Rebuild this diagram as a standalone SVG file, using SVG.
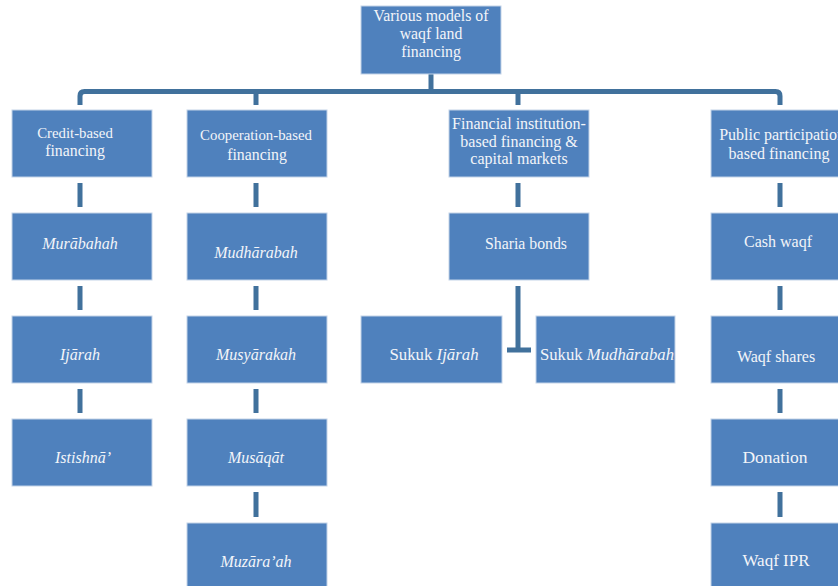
<svg xmlns="http://www.w3.org/2000/svg" width="838" height="586" viewBox="0 0 838 586">
<style>
.box{fill:#4f81bd;stroke:#c3d3e8;stroke-width:1}
.t{font-family:"Liberation Serif","Times New Roman",serif;fill:#f3f5f9;text-anchor:middle;dominant-baseline:central}
.i{font-style:italic}
.c{fill:none;stroke:#41719c;stroke-width:5}
</style>
<rect width="838" height="586" fill="#ffffff"/>
<g id="connectors">
<path class="c" d="M431,74 V92"/>
<path class="c" d="M80,105 V96 Q80,91.5 84.5,91.5 H775.5 Q780,91.5 780,96 V105"/>
<path class="c" d="M256,92 V105"/>
<path class="c" d="M518,92 V105"/>
<path class="c" d="M80,183 V207 M80,286 V310 M80,389 V413"/>
<path class="c" d="M256,183 V207 M256,286 V310 M256,389 V413 M256,492 V517"/>
<path class="c" d="M518,183 V207 M518,286 V350 M507,350 H531"/>
<path class="c" d="M780,183 V207 M780,286 V310 M780,389 V413 M780,492 V517"/>
</g>
<g id="root"><rect class="box" x="361" y="6" width="140" height="68"/>
<text class="t" x="431" y="15" font-size="15.8">Various models of</text>
<text class="t" x="431" y="33" font-size="15.8">waqf land</text>
<text class="t" x="431" y="51" font-size="15.8">financing</text></g>
<g id="credit"><rect class="box" x="12" y="110" width="140" height="67"/>
<text class="t" x="75" y="133" font-size="14.8">Credit-based</text>
<text class="t" x="75" y="150" font-size="15.8">financing</text></g>
<g id="coop"><rect class="box" x="187" y="110" width="140" height="67"/>
<text class="t" x="256" y="135" font-size="14.8">Cooperation-based</text>
<text class="t" x="257" y="154" font-size="15.8">financing</text></g>
<g id="financial"><rect class="box" x="449" y="110" width="140" height="67"/>
<text class="t" x="519" y="123" font-size="16">Financial institution-</text>
<text class="t" x="519" y="141" font-size="16">based financing &amp;</text>
<text class="t" x="519" y="158" font-size="16">capital markets</text></g>
<g id="public"><rect class="box" x="711" y="110" width="140" height="67"/>
<text class="t" x="782" y="134" font-size="16">Public participation</text>
<text class="t" x="779" y="153" font-size="16">based financing</text></g>
<g id="murabahah"><rect class="box" x="12" y="213" width="140" height="67"/>
<text class="t i" x="80" y="243" font-size="16">Murābahah</text></g>
<g id="ijarah"><rect class="box" x="12" y="316" width="140" height="67"/>
<text class="t i" x="80" y="354" font-size="16">Ijārah</text></g>
<g id="istishna"><rect class="box" x="12" y="419" width="140" height="67"/>
<text class="t i" x="83" y="457" font-size="16">Istishnā’</text></g>
<g id="mudharabah"><rect class="box" x="187" y="213" width="140" height="67"/>
<text class="t i" x="256" y="252" font-size="16">Mudhārabah</text></g>
<g id="musyarakah"><rect class="box" x="187" y="316" width="140" height="67"/>
<text class="t i" x="256" y="354" font-size="16">Musyārakah</text></g>
<g id="musaqat"><rect class="box" x="187" y="419" width="140" height="67"/>
<text class="t i" x="256" y="457" font-size="16">Musāqāt</text></g>
<g id="muzaraah"><rect class="box" x="187" y="523" width="140" height="67"/>
<text class="t i" x="256" y="561" font-size="16">Muzāra’ah</text></g>
<g id="sharia"><rect class="box" x="449" y="213" width="140" height="67"/>
<text class="t" x="526" y="243" font-size="15.8">Sharia bonds</text></g>
<g id="sukuk-ijarah"><rect class="box" x="361" y="316" width="141" height="67"/>
<text class="t" x="434" y="354" font-size="16.8">Sukuk <tspan class="i">Ijārah</tspan></text></g>
<g id="sukuk-mudharabah"><rect class="box" x="536" y="316" width="139" height="67"/>
<text class="t" x="607" y="354" font-size="16.7">Sukuk <tspan class="i">Mudhārabah</tspan></text></g>
<g id="cash"><rect class="box" x="711" y="213" width="140" height="67"/>
<text class="t" x="778" y="241" font-size="16">Cash waqf</text></g>
<g id="shares"><rect class="box" x="711" y="316" width="140" height="67"/>
<text class="t" x="776" y="356" font-size="16">Waqf shares</text></g>
<g id="donation"><rect class="box" x="711" y="419" width="140" height="67"/>
<text class="t" x="775" y="457" font-size="17.5">Donation</text></g>
<g id="ipr"><rect class="box" x="711" y="523" width="140" height="67"/>
<text class="t" x="776" y="560" font-size="17">Waqf IPR</text></g>
</svg>
